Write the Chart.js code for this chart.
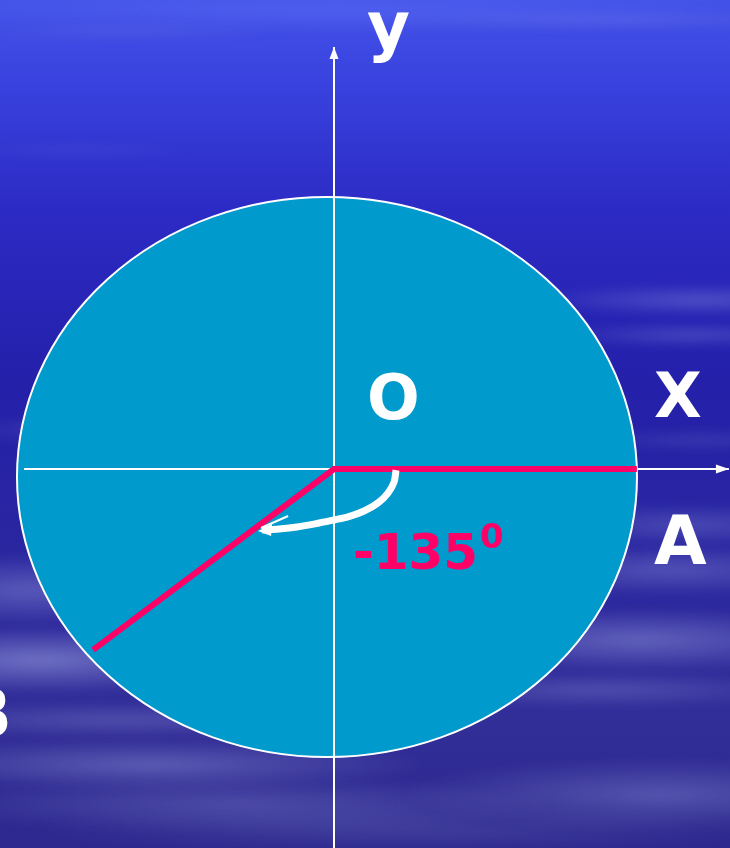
<!DOCTYPE html>
<html>
<head>
<meta charset="utf-8">
<script src="https://cdn.jsdelivr.net/npm/chart.js@4/dist/chart.umd.min.js"></script>
<style>
  html, body { margin: 0; padding: 0; overflow: hidden; background: #2a28a8; }
  canvas { display: block; }
</style>
</head>
<body>
<canvas id="angleChart" width="730" height="848"></canvas>
<script>
// axis ranges (unit circle = 1 on each axis)
const xRange = [-1.0774, 1.2774];
const yRange = [-1.3536, 1.675];

// the circle around O
const circleCenter = { x: -0.0226, y: -0.0286 };
const circleRadius = 1;

// coordinate axes, last point is the arrow tip
const xAxisLine = [{ x: -1.0, y: 0 }, { x: 1.274, y: 0 }];
const yAxisLine = [{ x: 0, y: -1.3536 }, { x: 0, y: 1.507 }];

// initial side OA and terminal side OB
const angleSides = [
    { x: 0.977, y: 0 },
    { x: 0, y: 0 },
    { x: -0.777, y: -0.646 }
];

// rotation arrow (clockwise, negative angle)
const rotationArc = [
    { x: 0.2, y: -0.004 },
    { x: 0.194, y: -0.046 },
    { x: 0.174, y: -0.086 },
    { x: 0.142, y: -0.121 },
    { x: 0.097, y: -0.150 },
    { x: 0.045, y: -0.171 },
    { x: 0, y: -0.182 },
    { x: -0.061, y: -0.196 },
    { x: -0.119, y: -0.207 },
    { x: -0.177, y: -0.214 },
    { x: -0.232, y: -0.218 }
];

const angleDeg = -135;
const pointLabels = ['O', 'A', 'B'];
const axisLabels = ['X', 'y'];

const PINK = '#ff0066';
const FONT = '"DejaVu Sans", Verdana, sans-serif';

// background: blue sky with pale streaks
const backgroundPlugin = {
    id: 'background',
    beforeDraw(chart) {
        const ctx = chart.ctx;
        const w = chart.width, h = chart.height;
        ctx.save();
        const g = ctx.createLinearGradient(0, 0, 0, h);
        g.addColorStop(0, 'rgb(66,82,232)');
        g.addColorStop(0.1, 'rgb(57,66,222)');
        g.addColorStop(0.25, 'rgb(44,42,196)');
        g.addColorStop(0.45, 'rgb(36,32,170)');
        g.addColorStop(0.65, 'rgb(42,38,160)');
        g.addColorStop(0.85, 'rgb(50,46,152)');
        g.addColorStop(1, 'rgb(44,40,142)');
        ctx.fillStyle = g;
        ctx.fillRect(0, 0, w, h);

        ctx.filter = 'blur(5px)';
        const streak = (cx, cy, rx, ry, rgb, a) => {
            ctx.save();
            ctx.translate(cx, cy);
            ctx.scale(rx / ry, 1);
            const rg = ctx.createRadialGradient(0, 0, 0, 0, 0, ry);
            rg.addColorStop(0, `rgba(${rgb},${a})`);
            rg.addColorStop(1, `rgba(${rgb},0)`);
            ctx.fillStyle = rg;
            ctx.beginPath();
            ctx.arc(0, 0, ry, 0, Math.PI * 2);
            ctx.fill();
            ctx.restore();
        };
        const pale = '175,182,235';
        streak(330, 10, 450, 24, '110,130,255', 0.3);
        streak(120, 32, 170, 8, pale, 0.12);
        streak(620, 20, 240, 10, pale, 0.15);
        streak(80, 150, 120, 8, pale, 0.08);
        streak(700, 300, 170, 16, pale, 0.3);
        streak(690, 335, 140, 12, pale, 0.25);
        streak(700, 440, 120, 12, pale, 0.15);
        streak(690, 525, 180, 22, pale, 0.25);
        streak(670, 570, 200, 26, pale, 0.3);
        streak(640, 640, 230, 32, pale, 0.4);
        streak(600, 690, 220, 18, pale, 0.25);
        streak(660, 795, 260, 36, pale, 0.3);
        streak(30, 590, 170, 36, pale, 0.35);
        streak(40, 660, 220, 34, pale, 0.5);
        streak(120, 720, 240, 18, pale, 0.25);
        streak(150, 765, 280, 26, pale, 0.35);
        streak(240, 805, 320, 28, pale, 0.25);
        streak(400, 830, 380, 24, pale, 0.15);
        streak(40, 430, 90, 14, pale, 0.12);
        ctx.filter = 'none';
        ctx.restore();
    }
};

// the circle, drawn through the scales
const circlePlugin = {
    id: 'circle',
    beforeDatasetsDraw(chart) {
        const { ctx, scales: { x, y } } = chart;
        const cx = x.getPixelForValue(circleCenter.x);
        const cy = y.getPixelForValue(circleCenter.y);
        const rx = x.getPixelForValue(circleCenter.x + circleRadius) - cx;
        const ry = cy - y.getPixelForValue(circleCenter.y + circleRadius);
        ctx.save();
        ctx.beginPath();
        ctx.ellipse(cx, cy, rx, ry, 0, 0, Math.PI * 2);
        ctx.fillStyle = '#009acc';
        ctx.fill();
        ctx.lineWidth = 2;
        ctx.strokeStyle = '#ffffff';
        ctx.stroke();
        ctx.restore();
    }
};

// arrow heads and labels
const labelsPlugin = {
    id: 'labels',
    afterDatasetsDraw(chart) {
        const ctx = chart.ctx;
        const { x, y } = chart.scales;
        ctx.save();

        // axis arrow heads
        const head = (pts, len, half) => {
            const p1 = pts[pts.length - 2], p2 = pts[pts.length - 1];
            const x1 = x.getPixelForValue(p1.x), y1 = y.getPixelForValue(p1.y);
            const x2 = x.getPixelForValue(p2.x), y2 = y.getPixelForValue(p2.y);
            const a = Math.atan2(y2 - y1, x2 - x1);
            ctx.save();
            ctx.translate(x2, y2);
            ctx.rotate(a);
            ctx.beginPath();
            ctx.moveTo(0, 0);
            ctx.lineTo(-len, -half);
            ctx.lineTo(-len, half);
            ctx.closePath();
            ctx.fillStyle = '#ffffff';
            ctx.fill();
            ctx.restore();
        };
        head(xAxisLine, 13, 4.5);
        head(yAxisLine, 12, 4.5);

        // head of the rotation arrow
        const end = rotationArc[rotationArc.length - 1];
        const ex = x.getPixelForValue(end.x) - 4;
        const ey = y.getPixelForValue(end.y) + 1;
        ctx.fillStyle = '#ffffff';
        ctx.beginPath();
        ctx.moveTo(ex, ey);
        ctx.lineTo(ex + 14, ey - 7);
        ctx.lineTo(ex + 13, ey + 5);
        ctx.closePath();
        ctx.fill();
        ctx.strokeStyle = '#ffffff';
        ctx.lineWidth = 2;
        ctx.beginPath();
        ctx.moveTo(ex + 3, ey - 3);
        ctx.lineTo(ex + 30, ey - 15);
        ctx.stroke();

        // labels
        ctx.textBaseline = 'alphabetic';
        ctx.fillStyle = '#ffffff';
        ctx.textAlign = 'left';
        ctx.font = `bold 66px ${FONT}`;
        ctx.fillText(axisLabels[1], 367, 49);
        ctx.font = `bold 62px ${FONT}`;
        ctx.fillText(axisLabels[0], 654, 417);
        ctx.fillText(pointLabels[0], 367, 419);
        ctx.font = `bold 68px ${FONT}`;
        ctx.fillText(pointLabels[1], 654, 564);
        ctx.textAlign = 'right';
        ctx.fillText(pointLabels[2], 12, 737);

        ctx.textAlign = 'left';
        ctx.fillStyle = PINK;
        ctx.font = `bold 50px ${FONT}`;
        ctx.fillText(String(angleDeg), 353, 569);
        ctx.font = `bold 34px ${FONT}`;
        ctx.fillText('0', 480, 548);

        ctx.restore();
    }
};

new Chart(document.getElementById('angleChart'), {
    type: 'scatter',
    data: {
        datasets: [
            {
                label: 'rotation',
                data: rotationArc,
                showLine: true,
                borderColor: '#ffffff',
                borderWidth: 7,
                tension: 0.3,
                borderCapStyle: 'butt',
                pointRadius: 0,
                order: 0
            },
            {
                label: 'sides',
                data: angleSides,
                showLine: true,
                borderColor: PINK,
                borderWidth: 6,
                tension: 0,
                borderJoinStyle: 'miter',
                borderCapStyle: 'butt',
                pointRadius: 0,
                order: 1
            },
            {
                label: 'x axis',
                data: xAxisLine,
                showLine: true,
                borderColor: '#ffffff',
                borderWidth: 2,
                pointRadius: 0,
                order: 2
            },
            {
                label: 'y axis',
                data: yAxisLine,
                showLine: true,
                borderColor: '#ffffff',
                borderWidth: 2,
                pointRadius: 0,
                order: 3
            }
        ]
    },
    options: {
        responsive: false,
        animation: false,
        events: [],
        layout: { padding: 0 },
        scales: {
            x: { type: 'linear', min: xRange[0], max: xRange[1], display: false },
            y: { type: 'linear', min: yRange[0], max: yRange[1], display: false }
        },
        plugins: {
            legend: { display: false },
            tooltip: { enabled: false }
        }
    },
    plugins: [backgroundPlugin, circlePlugin, labelsPlugin]
});
</script>
</body>
</html>
